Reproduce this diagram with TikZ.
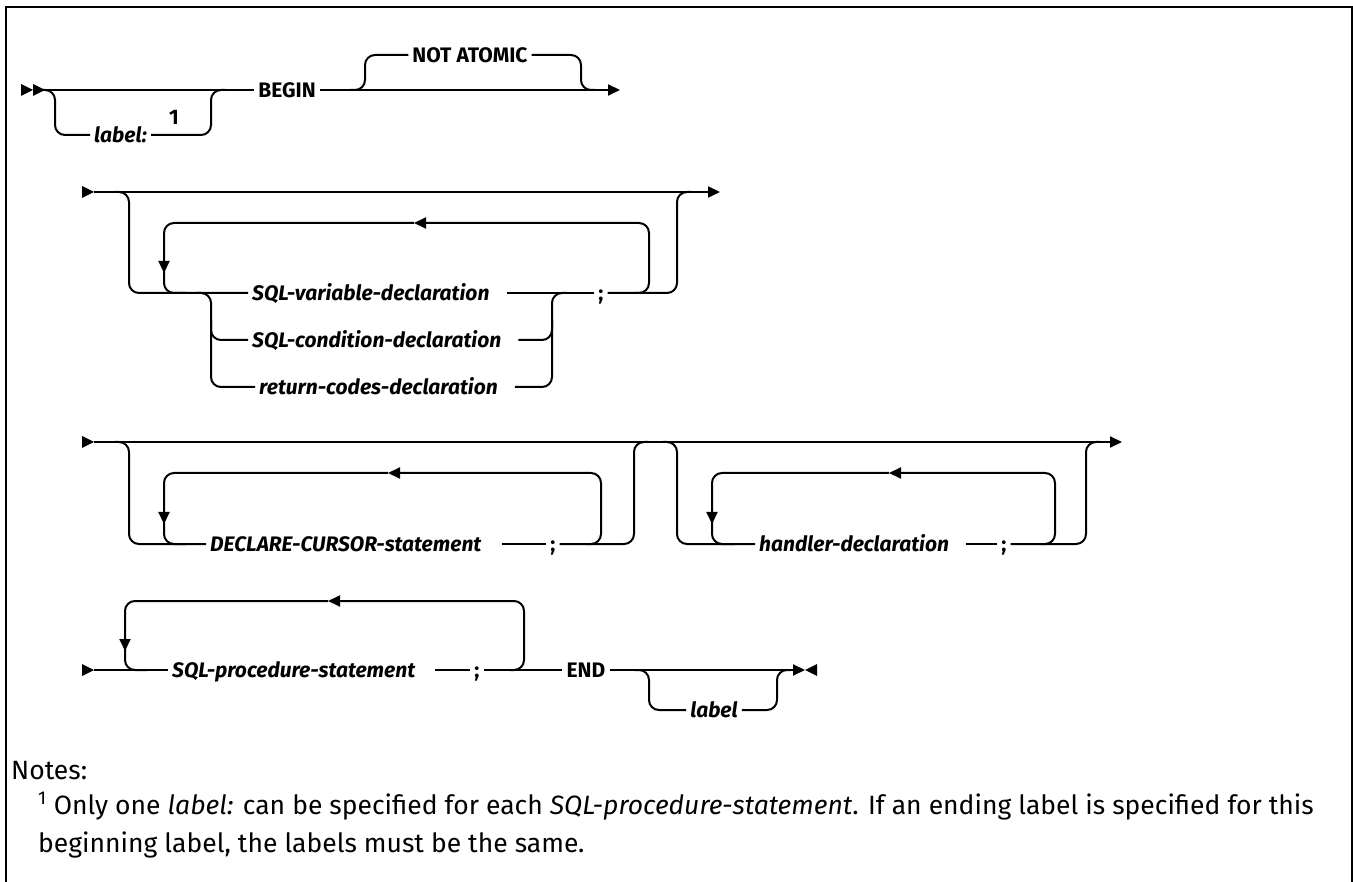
\documentclass[tikz,border=0pt]{standalone}
\usepackage{fontspec}
\setmainfont{Fira Sans}
\usetikzlibrary{arrows.meta}
\begin{document}
\begin{tikzpicture}[x=1pt,y=-1pt,
  >={Triangle[length=12pt,width=11pt]},
  ln/.style={line width=2pt},
  rr/.style={line width=2pt, rounded corners=10pt},
  kw/.style={font=\fontsize{21}{21}\selectfont\bfseries, text height=15.5pt, text depth=1pt, inner xsep=4pt, inner ysep=0pt},
  var/.style={font=\fontsize{21}{21}\selectfont\bfseries\itshape, text height=15.5pt, text depth=1pt, inner xsep=4pt, inner ysep=0pt},
  note/.style={font=\fontsize{26.5}{38}\selectfont, inner sep=0pt, anchor=base west}]
\useasboundingbox (0,0) rectangle (1353,882);
% frame
\draw[line width=2.5pt] (6,882) -- (6,7) -- (1352,7) -- (1352,882);

% ---------- row 1 ----------
\fill (21,84) -- (33,90) -- (21,96) -- cycle;
\fill (33,84) -- (45,90) -- (33,96) -- cycle;
\coordinate (r1a) at (45,90);
\coordinate (r1e) at (620,90);
\node[kw] (begin) at (287,90) {BEGIN};
\node[kw] (na) at (470,55) {NOT ATOMIC};
\node[var, anchor=west] (lbl1) at (90,135) {label:};
\node[kw] (fn1) at (174,117) {1};
\draw[ln] (r1a) -- (begin);
\draw[ln,->] (begin) -- (r1e);
\draw[rr] (40,90) -| (55,135) -- (lbl1);
\draw[rr] (lbl1) -| (211,90) -- (225,90);
\draw[rr] (350,90) -| (365,55) -- (na);
\draw[rr] (na) -| (581,90) -- (595,90);

% ---------- row 2 ----------
\fill (82,186) -- (94,192) -- (82,198) -- cycle;
\coordinate (r2a) at (94,192);
\coordinate (r2e) at (720,192);
\draw[ln,->] (r2a) -- (r2e);
\node[var, anchor=west] (sv) at (248,293) {SQL-variable-declaration\hspace*{13pt}};
\node[var, anchor=west] (sc) at (248,340) {SQL-condition-declaration\hspace*{13pt}};
\node[var, anchor=west] (rcd) at (255,387) {return-codes-declaration\hspace*{13pt}};
\node[kw] (semi2) at (601,293) {;};
\draw[rr] (115,192) -| (129,293) -- (sv);
\draw[rr] (196,293) -| (211,387) -- (rcd);
\draw[rr] (211,320) |- (sc);
\draw[rr] (rcd) -| (552,293) -- (567,293);
\draw[rr] (sc) -| (552,320);
\draw[ln] (sv) -- (semi2);
\draw[rr] (semi2) -| (677,192) -- (691,192);
\draw[rr,->] (635,293) -| (649,223) -- (414,223);
\draw[rr,->] (414,223) -| (164,273);
\draw[rr] (164,270) |- (186,293);

% ---------- row 3 ----------
\fill (82,436) -- (94,442) -- (82,448) -- cycle;
\coordinate (r3a) at (94,442);
\coordinate (r3e) at (1122,442);
\draw[ln,->] (r3a) -- (r3e);
\node[var, anchor=west] (dc) at (206,544) {DECLARE-CURSOR-statement\hspace*{16pt}};
\node[kw] (semiA) at (553,544) {;};
\draw[rr] (115,442) -| (129,544) -- (dc);
\draw[ln] (dc) -- (semiA);
\draw[rr] (semiA) -| (634,442) -- (648,442);
\draw[rr,->] (587,544) -| (601,473) -- (388,473);
\draw[rr,->] (388,473) -| (164,524);
\draw[rr] (164,521) |- (186,544);
\node[var, anchor=west] (hd) at (755,544) {handler-declaration\hspace*{13pt}};
\node[kw] (semiB) at (1004,544) {;};
\draw[rr] (663,442) -| (677,544) -- (hd);
\draw[ln] (hd) -- (semiB);
\draw[rr] (semiB) -| (1086,442) -- (1100,442);
\draw[rr,->] (1041,544) -| (1055,473) -- (889,473);
\draw[rr,->] (889,473) -| (712,524);
\draw[rr] (712,521) |- (734,544);

% ---------- row 4 ----------
\fill (82,664) -- (94,670) -- (82,676) -- cycle;
\coordinate (r4a) at (94,670);
\coordinate (r4e) at (805,670);
\node[var, anchor=west] (sp) at (168,670) {SQL-procedure-statement\hspace*{16pt}};
\node[kw] (semi4) at (477,670) {;};
\node[kw] (endk) at (586,670) {END};
\node[var] (lbl4) at (714,710) {label};
\draw[ln] (r4a) -- (sp);
\draw[ln] (sp) -- (semi4);
\draw[ln] (semi4) -- (endk);
\draw[ln,->] (endk) -- (r4e);
\fill (817,664) -- (805,670) -- (817,676) -- cycle;
\draw[rr,->] (510,670) -| (524,601) -- (328,601);
\draw[rr,->] (328,601) -| (125,651);
\draw[rr] (125,648) |- (147,670);
\draw[rr] (635,670) -| (649,710) -- (lbl4);
\draw[rr] (lbl4) -| (777,670) -- (790,670);

% ---------- notes ----------
\node[note] (notes) at (11,779) {Notes:};
\node[note] (fnA) at (38,814) {\textsuperscript{1} Only one \textit{label:} can be specified for each \textit{SQL-procedure-statement}. If an ending label is specified for this};
\node[note] (fnB) at (38,852) {beginning label, the labels must be the same.};
\end{tikzpicture}
\end{document}
